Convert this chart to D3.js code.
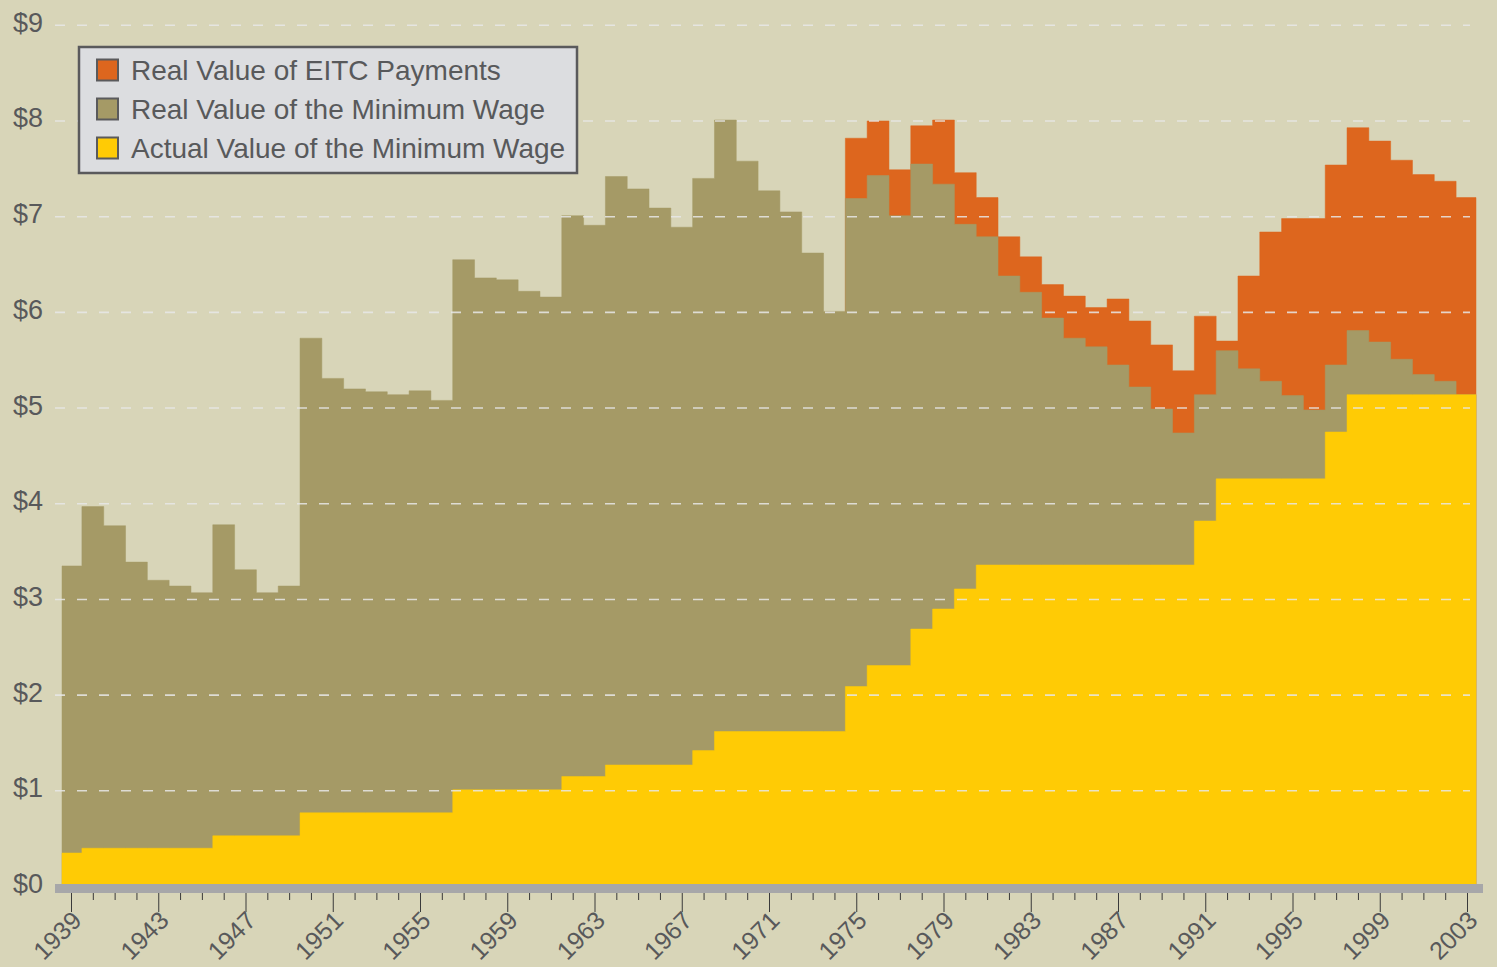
<!DOCTYPE html>
<html><head><meta charset="utf-8">
<script src="https://cdn.jsdelivr.net/npm/d3@7"></script>
<style>html,body{margin:0;padding:0;background:#d8d5b8;} svg{display:block;}</style>
</head><body>
<svg id="chart" width="1497" height="967"></svg>
<script>
// ---------- DATA ----------
const years = d3.range(1939, 2004);
const realMinWage = [
  3.35, 3.97, 3.77, 3.39, 3.20, 3.14, 3.07, 3.78, 3.31, 3.07, 3.14,
  5.73, 5.31, 5.20, 5.17, 5.14, 5.18, 5.08, 6.55, 6.36, 6.34, 6.22, 6.16,
  7.01, 6.91, 7.42, 7.29, 7.09, 6.89, 7.40, 8.01, 7.58, 7.27, 7.05, 6.62, 6.01,
  7.19, 7.43, 7.01, 7.55, 7.34, 6.92, 6.79, 6.38, 6.21, 5.94, 5.73, 5.64, 5.45,
  5.22, 4.99, 4.74, 5.14, 5.60, 5.41, 5.28, 5.13, 4.98, 5.45, 5.81, 5.69, 5.51,
  5.35, 5.28, 5.14
];
const eitcYears = d3.range(1975, 2004);
const eitcTotal = [
  7.82, 8.00, 7.49, 7.95, 8.01, 7.46, 7.20, 6.79, 6.58, 6.29, 6.17, 6.05, 6.14,
  5.91, 5.66, 5.39, 5.96, 5.70, 6.38, 6.84, 6.98, 6.98, 7.54, 7.93, 7.79, 7.59,
  7.44, 7.37, 7.20
];
const actualMinWage = [
  0.35, 0.40, 0.40, 0.40, 0.40, 0.40, 0.40, 0.53, 0.53, 0.53, 0.53,
  0.77, 0.77, 0.77, 0.77, 0.77, 0.77, 0.77, 1.01, 1.01, 1.01, 1.01, 1.01,
  1.15, 1.15, 1.27, 1.27, 1.27, 1.27, 1.42, 1.62, 1.62, 1.62, 1.62, 1.62, 1.62,
  2.09, 2.31, 2.31, 2.69, 2.90, 3.11, 3.36, 3.36, 3.36, 3.36, 3.36, 3.36, 3.36,
  3.36, 3.36, 3.36, 3.82, 4.26, 4.26, 4.26, 4.26, 4.26, 4.75, 5.14, 5.14, 5.14,
  5.14, 5.14, 5.14
];
const yTickValues = [0, 1, 2, 3, 4, 5, 6, 7, 8, 9];
const labelYears = d3.range(1939, 2004, 4);
const legendLabels = ["Real Value of EITC Payments", "Real Value of the Minimum Wage", "Actual Value of the Minimum Wage"];

// ---------- STYLE ----------
const C = {
  bg: "#d8d5b8", olive: "#a59a66", orange: "#dd661e", yellow: "#ffcb05",
  text: "#58595b", axis: "#a7a7a9", legendBg: "#dcdde0"
};
const FONT = "'Liberation Sans', Arial, Helvetica, sans-serif";

const svg = d3.select("#chart");
svg.append("rect").attr("width", 1497).attr("height", 967).attr("fill", C.bg);

const x = d3.scaleLinear().domain([1939, 2003]).range([71, 1467]);
const y = d3.scaleLinear().domain([0, 9]).range([886.5, 25.3]);
const plotL = 62, plotR = 1476;

function stepPoints(yrs, vals) {
  const pts = [];
  yrs.forEach((yr, i) => {
    const v = vals[i];
    if (v == null) return;
    const x0 = Math.max(plotL, x(yr - 0.5));
    const x1 = Math.min(plotR, x(yr + 0.5));
    pts.push([x0, v], [x1, v]);
  });
  return pts;
}
const area = d3.area().x(d => d[0]).y0(y(0)).y1(d => y(d[1]));

const g = svg.append("g");
g.append("path").attr("d", area(stepPoints(eitcYears, eitcTotal)))
  .attr("fill", C.orange).attr("stroke", C.orange).attr("stroke-width", 0.5);
g.append("path").attr("d", area(stepPoints(years, realMinWage)))
  .attr("fill", C.olive).attr("stroke", C.olive).attr("stroke-width", 0.5);
g.append("path").attr("d", area(stepPoints(years, actualMinWage)))
  .attr("fill", C.yellow).attr("stroke", C.yellow).attr("stroke-width", 0.5);

// gridlines on top
svg.append("g").selectAll("line").data(yTickValues.filter(v => v > 0)).join("line")
  .attr("x1", 55).attr("x2", 1470)
  .attr("y1", d => y(d)).attr("y2", d => y(d))
  .attr("stroke", "#e8e8e8").attr("stroke-opacity", 0.85)
  .attr("stroke-width", 1.6).attr("stroke-dasharray", "10,12");

// y labels
svg.append("g").selectAll("text").data(yTickValues).join("text")
  .attr("x", 43).attr("y", d => y(d) - 3).attr("dy", "0.35em")
  .attr("text-anchor", "end").attr("font-family", FONT).attr("font-size", 27)
  .attr("fill", C.text).text(d => "$" + d);

// x axis bar
svg.append("rect").attr("x", 55).attr("y", 884).attr("width", 1428).attr("height", 9)
  .attr("fill", C.axis);

// ticks
const xAxis = d3.axisBottom(x).tickValues(years).tickSize(7).tickFormat("");
const axG = svg.append("g").attr("transform", "translate(0,893)").call(xAxis);
axG.select(".domain").remove();
axG.selectAll(".tick line")
  .attr("stroke", "#3a3a3a").attr("stroke-width", 1)
  .attr("y2", d => (d - 1939) % 4 === 0 ? 19 : 7);

// x labels
svg.append("g").selectAll("text").data(labelYears).join("text")
  .attr("transform", d => `translate(${x(d) + 12},922) rotate(-45)`)
  .attr("text-anchor", "end").attr("font-family", FONT).attr("font-size", 25)
  .attr("fill", C.text).text(d => d);

// legend
const lg = svg.append("g");
lg.append("rect").attr("x", 79).attr("y", 47).attr("width", 498).attr("height", 126)
  .attr("fill", C.legendBg).attr("stroke", "#5a5a5c").attr("stroke-width", 2.5);
const swatchColors = [C.orange, C.olive, C.yellow];
legendLabels.forEach((lab, i) => {
  const cy = 70 + i * 39;
  lg.append("rect").attr("x", 97).attr("y", cy - 10.5).attr("width", 21).attr("height", 21)
    .attr("fill", swatchColors[i]).attr("stroke", "#5a5a5c").attr("stroke-width", 2);
  lg.append("text").attr("x", 131).attr("y", cy + 10)
    .attr("font-family", FONT).attr("font-size", 28).attr("fill", C.text).text(lab);
});
</script>
</body></html>
